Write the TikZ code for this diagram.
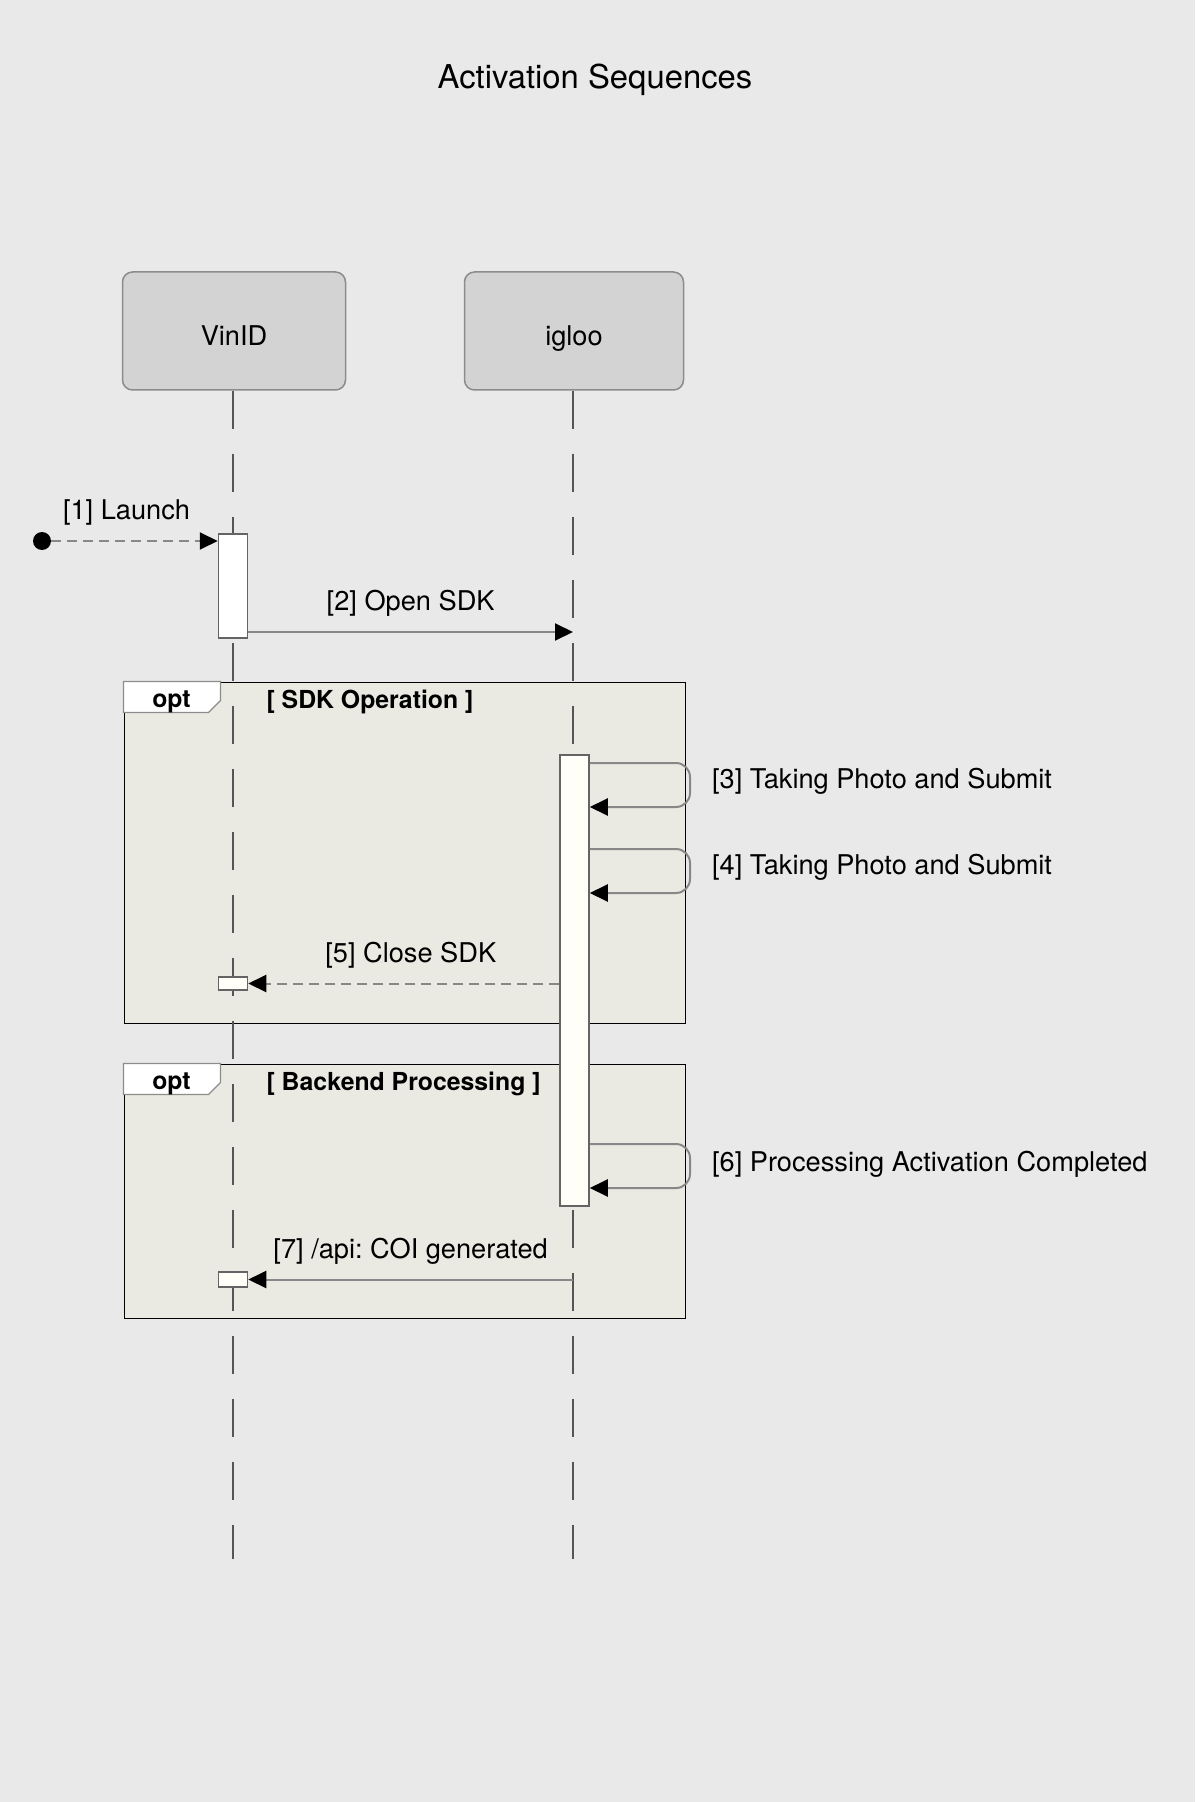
\documentclass[tikz,border=0pt]{standalone}
\usepackage{fontspec}
\setmainfont{TeX Gyre Heros}
\usepackage{tikz}
\usetikzlibrary{arrows.meta,positioning}
\definecolor{bgcol}{RGB}{233,233,233}
\definecolor{boxfill}{RGB}{211,211,211}
\definecolor{boxline}{RGB}{140,140,140}
\definecolor{framefill}{RGB}{234,234,226}
\definecolor{barfill}{RGB}{255,255,248}
\definecolor{barline}{RGB}{100,100,100}
\definecolor{msgcol}{RGB}{136,136,136}
\definecolor{lifecol}{RGB}{85,85,85}
\frenchspacing
\newcommand{\lblfont}{\fontsize{13.6}{16}\selectfont}
\newcommand{\guardfont}{\fontsize{12.4}{15}\selectfont\bfseries}
\newcommand{\titlefont}{\fontsize{16.4}{20}\selectfont}
\tikzstyle{participant} = [draw=boxline, fill=boxfill, line width=0.75pt, rounded corners=5pt, minimum height=59pt, text height=14.8pt, text depth=0pt, font=\lblfont]
\tikzstyle{activation} = [draw=barline, fill=barfill, line width=0.75pt, minimum width=14.5pt, inner sep=0pt]
\tikzstyle{msgline} = [draw=msgcol, line width=1pt, -{Triangle[length=9pt,width=8.5pt,color=black]}]
\tikzstyle{replyline} = [msgline, dash pattern=on 5pt off 3pt]
\tikzstyle{lifeline} = [draw=lifecol, line width=0.75pt, dash pattern=on 19pt off 12.5pt]
\tikzstyle{optframe} = [draw=black, fill=framefill, line width=0.5pt, minimum width=280.5pt, inner sep=0pt]
\tikzstyle{opttab} = [draw=boxline, fill=white, line width=0.6pt]
\tikzstyle{startdot} = [circle, fill=black, minimum size=9pt, inner sep=0pt]
\tikzstyle{msglabel} = [font=\lblfont, above=3.8pt, midway]
\tikzstyle{selflabel} = [font=\lblfont, anchor=west]

\begin{document}
\begin{tikzpicture}[x=0.5pt, y=-0.5pt]
  \useasboundingbox[fill=bgcol] (0,0) rectangle (1195,1802);
  \node[font=\titlefont] (title) at (595,80) {Activation Sequences};

  % combined fragments
  \node[optframe, minimum height=170.5pt] (opt1) at (404.5,852.5) {};
  \draw[opttab] (opt1.north west) -- ++(97,0) -- ++(0,19) -- ++(-12,12) -- ++(-85,0) -- cycle;
  \node[font=\guardfont] (opt1tab) at ([shift={(48,20)}]opt1.north west) {opt};
  \node[font=\guardfont, anchor=west] (opt1guard) at ([shift={(136,20)}]opt1.north west) {[ SDK Operation ]};

  \node[optframe, minimum height=127pt] (opt2) at (404.5,1191) {};
  \draw[opttab] (opt2.north west) -- ++(97,0) -- ++(0,19) -- ++(-12,12) -- ++(-85,0) -- cycle;
  \node[font=\guardfont] (opt2tab) at ([shift={(48,20)}]opt2.north west) {opt};
  \node[font=\guardfont, anchor=west] (opt2guard) at ([shift={(136,20)}]opt2.north west) {[ Backend Processing ]};

  % participants and lifelines
  \node[participant, minimum width=111.5pt] (vinid) at (234,331) {VinID};
  \node[participant, minimum width=109.5pt] (igloo) at (574,331) {igloo};
  \coordinate (vinidend) at (233,1559);
  \coordinate (iglooend) at (573,1559);
  \draw[lifeline] (vinid.south -| vinidend) -- (vinidend);
  \draw[lifeline] (igloo.south -| iglooend) -- (iglooend);

  % activations
  \node[activation, minimum height=52pt, fill=white] (vbar1) at (233,586) {};
  \node[activation, minimum height=225.5pt] (ibar) at (574.5,980.5) {};
  \node[activation, minimum height=6.5pt] (vbar2) at (233,983.5) {};
  \node[activation, minimum height=7.5pt] (vbar3) at (233,1279.5) {};

  % messages
  \node[startdot] (start) at (42,541) {};
  \draw[replyline] (start) -- (start -| vbar1.west) node[msglabel, xshift=-4pt] {[1] Launch};

  \coordinate (m2) at (573,632);
  \draw[msgline] (vbar1.east |- m2) -- (m2) node[msglabel] {[2] Open SDK};

  \coordinate (m3top) at (690,763);
  \coordinate (m3bot) at (690,807);
  \draw[msgline, rounded corners=7pt] (ibar.east |- m3top) -- (m3top) -- (m3bot) -- (ibar.east |- m3bot);
  \node[selflabel] (m3label) at (705,781) {[3] Taking Photo and Submit};

  \coordinate (m4top) at (690,849);
  \coordinate (m4bot) at (690,893);
  \draw[msgline, rounded corners=7pt] (ibar.east |- m4top) -- (m4top) -- (m4bot) -- (ibar.east |- m4bot);
  \node[selflabel] (m4label) at (705,867) {[4] Taking Photo and Submit};

  \draw[replyline] (ibar.west |- vbar2) -- (vbar2.east) node[msglabel, xshift=3.5pt] {[5] Close SDK};

  \coordinate (m6top) at (690,1144);
  \coordinate (m6bot) at (690,1188);
  \draw[msgline, rounded corners=7pt] (ibar.east |- m6top) -- (m6top) -- (m6bot) -- (ibar.east |- m6bot);
  \node[selflabel] (m6label) at (705,1164) {[6] Processing Activation Completed};

  \draw[msgline] (iglooend |- vbar3) -- (vbar3.east) node[msglabel] {[7] /api: COI generated};
\end{tikzpicture}
\end{document}
